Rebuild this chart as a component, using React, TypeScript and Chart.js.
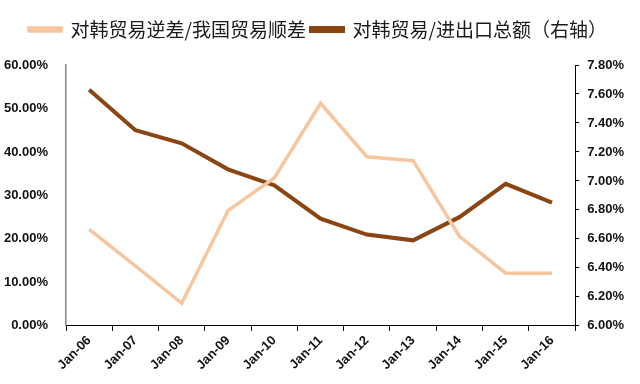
import React, { useEffect, useRef } from "react";
import { Chart, registerables } from "chart.js";

Chart.register(...registerables);

const categories = ["Jan-06", "Jan-07", "Jan-08", "Jan-09", "Jan-10", "Jan-11", "Jan-12", "Jan-13", "Jan-14", "Jan-15", "Jan-16"];
const deficitShare = [22.2, 13.8, 5.2, 26.5, 34.0, 51.2, 38.9, 38.0, 20.6, 12.1, 12.1];
const tradeShare = [7.63, 7.35, 7.26, 7.08, 6.97, 6.74, 6.63, 6.59, 6.75, 6.98, 6.85];
const seriesNames = ["对韩贸易逆差/我国贸易顺差", "对韩贸易/进出口总额（右轴）"];
const leftTicks = { min: 0, max: 60, step: 10 };
const rightTicks = { min: 6, max: 7.8, step: 0.2 };

const LIGHT = "#F8C69E";
const DARK = "#8B4513";

const legendGap = {
  id: "legendGap",
  beforeInit(chart: any) {
    const legend = chart.legend;
    if (!legend) return;
    const origFit = legend.fit;
    legend.fit = function () {
      origFit.call(this);
      this.height += 16;
    };
  },
};

export default function App() {
  const ref = useRef<HTMLCanvasElement | null>(null);
  useEffect(() => {
    document.body.style.margin = "0";
    const canvas = ref.current;
    if (!canvas) return;
    const tickFont = { family: "'Liberation Sans', Arial, sans-serif", size: 13, weight: "bold" as const };
    const chart = new Chart(canvas, {
      type: "line",
      plugins: [legendGap],
      data: {
        labels: categories,
        datasets: [
          {
            label: seriesNames[0],
            data: deficitShare,
            borderColor: LIGHT,
            backgroundColor: LIGHT,
            borderWidth: 3.5,
            pointRadius: 0,
            tension: 0,
            yAxisID: "y",
          },
          {
            label: seriesNames[1],
            data: tradeShare,
            borderColor: DARK,
            backgroundColor: DARK,
            borderWidth: 4,
            pointRadius: 0,
            tension: 0,
            yAxisID: "y1",
          },
        ],
      },
      options: {
        responsive: false,
        animation: false,
        layout: { padding: { left: 4, right: 8, top: 15, bottom: 9 } },
        plugins: {
          tooltip: { enabled: false },
          legend: {
            display: true,
            position: "top",
            labels: {
              boxWidth: 32,
              boxHeight: 3,
              padding: 5,
              color: "#1a1a1a",
              font: { family: "'Noto Sans CJK SC', sans-serif", size: 19 },
            },
          },
        },
        scales: {
          x: {
            type: "category",
            offset: true,
            grid: {
              display: true,
              offset: true,
              drawOnChartArea: false,
              drawTicks: true,
              tickLength: 5,
              color: "#000",
            },
            border: { display: true, color: "#000", width: 1 },
            ticks: {
              color: "#111",
              font: tickFont,
              minRotation: 45,
              maxRotation: 45,
              autoSkip: false,
              padding: 2,
            },
            afterFit: (scale: any) => {
              scale.paddingLeft = 0;
              scale.paddingRight = 0;
            },
          },
          y: {
            type: "linear",
            position: "left",
            min: leftTicks.min,
            max: leftTicks.max,
            grid: { display: false },
            border: { display: true, color: "#888", width: 1.5 },
            ticks: {
              stepSize: leftTicks.step,
              color: "#111",
              font: tickFont,
              padding: 10,
              callback: (v: any) => Number(v).toFixed(2) + "%",
            },
            afterFit: (scale: any) => {
              scale.width = 62;
            },
          },
          y1: {
            type: "linear",
            position: "right",
            min: rightTicks.min,
            max: rightTicks.max,
            grid: {
              display: true,
              drawOnChartArea: false,
              drawTicks: true,
              tickLength: 4,
              color: "#000",
            },
            border: { display: true, color: "#000", width: 1 },
            ticks: {
              stepSize: rightTicks.step,
              color: "#111",
              font: tickFont,
              padding: 8,
              callback: (v: any) => Number(v).toFixed(2) + "%",
            },
          },
        },
      },
    });
    return () => chart.destroy();
  }, []);
  return (
    <div style={{ width: 640, height: 384, background: "#fff" }}>
      <canvas ref={ref} width={640} height={384} style={{ display: "block" }} />
    </div>
  );
}
